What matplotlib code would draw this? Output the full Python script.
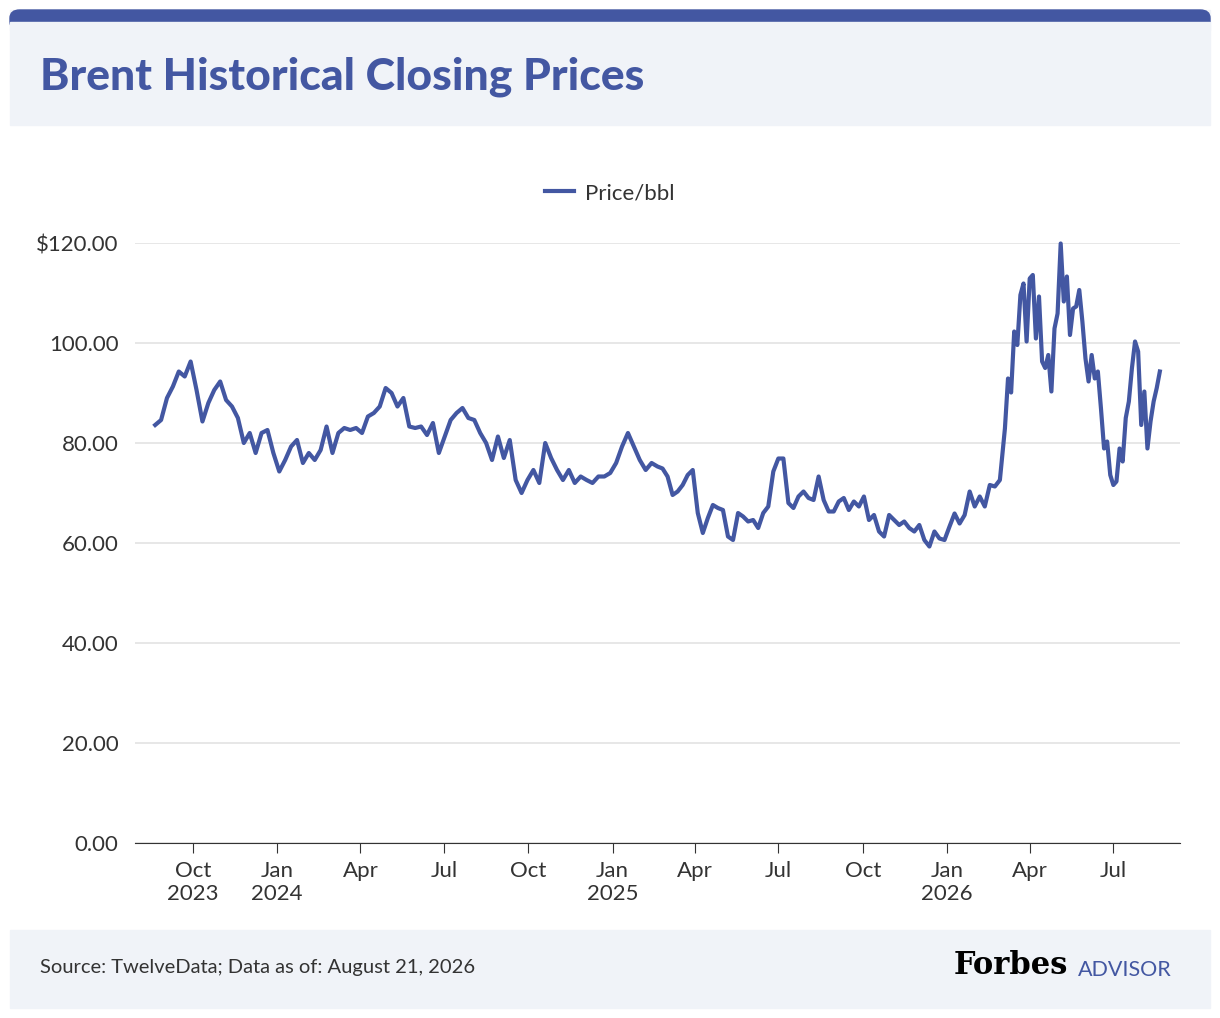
import numpy as np
import pandas as pd
import matplotlib
matplotlib.use("Agg")
import matplotlib.pyplot as plt
from matplotlib.patches import FancyBboxPatch, Rectangle

seg1_prices = [83.6,84.6,89,91.3,94.3,93.3,96.3,90.6,84.3,88,90.6,92.3,88.6,87.3,85,80,82,78,82,82.6,78,74.3,76.6,79.3,80.6,76,78,76.6,78.6,83.3,78,82,83,82.6,83,82,85.3,86,87.3,91,90,87.3,89,83.3,83,83.3,81.6,84,78,81.3,84.6,86,87,85,84.6,82,80,76.6,81.3,77,80.6,72.6,70,72.6,74.6,72,80,77,74.6,72.6,74.6,72,73.3,72.6,72,73.3,73.3,74,76,79.3,82,79.3,76.6,74.6,76,75.3]
seg2_prices = [74.9,73.3,69.6,70.3,71.6,73.6,74.6,66,62,65,67.6,67,66.6,61.3,60.6,66,65.3,64.3,64.6,63,66,67.3,74.3,76.9,76.9,68,67,69.3,70.3,69,68.6,73.3,68.6,66.3,66.3,68.3,69,66.6,68.3,67.3,69.3,64.6,65.6,62.3,61.3,65.6,64.6,63.6,64.3,63,62.3,63.6,60.6,59.3,62.3,60.9,60.6,63.3,65.9,63.9,65.6,70.3,67.3,69.3,67.3,71.6,71.3,72.6,82.9]
seg3_prices = [92.9,90.1,102.3,99.6,109.6,111.9,100.3,112.9,113.6,100.9,109.3,96.3,95,97.6,90.3,102.9,105.9,119.9,108.3,113.3,101.6,106.9,107.3,110.6,104.3,96.9,92.3,97.6,92.9,94.3,86.9,78.9,80.3,73.6,71.6,72.3,78.9,76.3,85,88.3,95,100.3,98.3,83.6,90.3,78.9,84.3,88.3,91,94.3]
seg_bounds = ["2023-08-21", "2025-02-19", "2026-03-05", "2026-08-21"]

def seg_dates(a, b, n, include_start):
    d = pd.date_range(a, b, periods=n + (0 if include_start else 1))
    return d if include_start else d[1:]

dates = seg_dates(seg_bounds[0], seg_bounds[1], len(seg1_prices), True)
dates = dates.append(seg_dates(seg_bounds[1], seg_bounds[2], len(seg2_prices), False))
dates = dates.append(seg_dates(seg_bounds[2], seg_bounds[3], len(seg3_prices), False))
prices = seg1_prices + seg2_prices + seg3_prices

plt.rcParams['font.family'] = ['Lato', 'DejaVu Sans']
BLUE = '#4357a2'
fig = plt.figure(figsize=(12.2, 10.18), dpi=100)
W, H = 1220, 1018
def fy(y): return 1 - y / H

fig.patches.append(Rectangle((10/W, fy(125)), 1200/W, 115/H, transform=fig.transFigure, color='#f0f3f8', zorder=0))
fig.patches.append(FancyBboxPatch((10/W, fy(30)), 1200/W, 20/H, boxstyle="round,pad=0,rounding_size=0.008",
                                  transform=fig.transFigure, color='#4357a2', zorder=1))
fig.patches.append(Rectangle((10/W, fy(30)), 1200/W, 8/H, transform=fig.transFigure, color='#f0f3f8', zorder=1))
fig.text(40/W, fy(77), "Brent Historical Closing Prices", fontsize=32, fontweight='black', color=BLUE, va='center')
fig.patches.append(Rectangle((10/W, fy(1008)), 1200/W, 78/H, transform=fig.transFigure, color='#f0f3f8', zorder=0))
fig.text(40/W, fy(968), "Source: TwelveData; Data as of: August 21, 2026", fontsize=14.5, color='#333333', va='center')
fig.text(1068/W, fy(966), "Forbes", fontsize=22, fontweight='bold', family=['DejaVu Serif'], color='black', va='center', ha='right')
fig.text(1078/W, fy(970), "ADVISOR", fontsize=15.5, color=BLUE, va='center', ha='left')

ax = fig.add_axes([135/W, 1 - 843/H, 1045/W, 600/H])
ax.plot(dates, prices, color=BLUE, lw=3, label='Price/bbl', clip_on=False, zorder=3)
ax.set_ylim(0, 120)
ax.set_yticks(np.arange(0, 121, 20))
ax.set_yticklabels(["0.00", "20.00", "40.00", "60.00", "80.00", "100.00", "$120.00"])
ref = pd.Timestamp("2023-10-01")
ax.set_xlim(ref - pd.Timedelta(days=63), ref + pd.Timedelta(days=1077))
ticks = pd.date_range("2023-10-01", "2026-07-01", freq="QS")
ax.set_xticks(ticks)
labels = []
for t in ticks:
    m = t.strftime("%b")
    labels.append(f"{m}\n{t.year}" if (m == "Jan" or t == ticks[0]) else m)
ax.set_xticklabels(labels)
ax.grid(axis='y', color='#e3e3e3', lw=1.2)
ax.set_axisbelow(True)
for s in ['top', 'right', 'left']:
    ax.spines[s].set_visible(False)
ax.spines['bottom'].set_color('#333333')
ax.tick_params(axis='y', length=0, labelsize=16, colors='#333333', pad=12)
ax.tick_params(axis='x', length=7, color='#333333', labelsize=16, labelcolor='#333333', pad=6)
leg = ax.legend(loc='center', bbox_to_anchor=(0.4545, 1 + 50/600), frameon=False, fontsize=16, handlelength=1.3, handletextpad=0.5)
for t in leg.get_texts(): t.set_color('#333333')
fig.savefig("out.png", dpi=100, facecolor='white')
